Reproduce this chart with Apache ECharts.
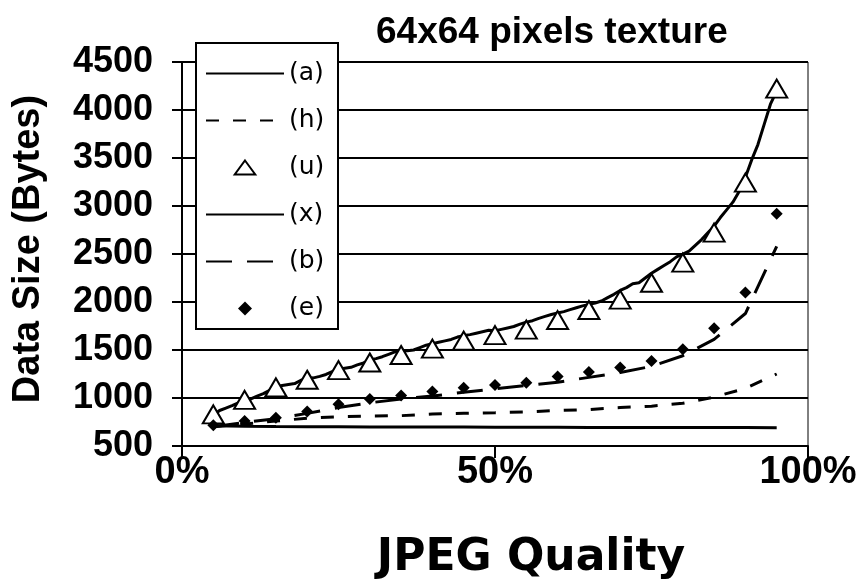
<!DOCTYPE html>
<html>
<head>
<meta charset="utf-8">
<script src="https://cdn.jsdelivr.net/npm/echarts@6/dist/echarts.min.js"></script>
<style>
  html, body { margin: 0; padding: 0; background: #fff; }
  #chart { width: 861px; height: 586px; }
</style>
</head>
<body>
<div id="chart"></div>
<script>
// JPEG quality settings (percent) sampled every 5 %
var quality = [5, 10, 15, 20, 25, 30, 35, 40, 45, 50, 55, 60, 65, 70, 75, 80, 85, 90, 95];

// Data size in bytes for each method, at the qualities above
var sizeA = [710, 706, 703, 701, 700, 699, 698, 697, 697, 696, 695, 695, 694, 694, 693, 693, 692, 692, 691];
var sizeH = [700, 730, 760, 790, 805, 812, 816, 833, 840, 847, 855, 870, 880, 900, 915, 945, 1010, 1100, 1250];
var sizeU = [830, 980, 1110, 1190, 1290, 1370, 1448, 1514, 1597, 1655, 1712, 1812, 1917, 2025, 2200, 2410, 2723, 3244, 4223];
var sizeB = [700, 745, 785, 840, 900, 950, 990, 1020, 1060, 1095, 1130, 1165, 1215, 1265, 1330, 1440, 1610, 1880, 2580];
var sizeE = [716, 760, 795, 860, 934, 990, 1025, 1068, 1108, 1135, 1160, 1223, 1271, 1317, 1385, 1507, 1726, 2100, 2920];

// Method (x) is measured at every 1 % of quality, from 5 % to 95 %
var qualityFine = [
  5, 6, 7, 8, 9, 10, 11, 12, 13, 14, 15, 16, 17, 18, 19, 20, 21, 22, 23, 24,
  25, 26, 27, 28, 29, 30, 31, 32, 33, 34, 35, 36, 37, 38, 39, 40, 41, 42, 43, 44,
  45, 46, 47, 48, 49, 50, 51, 52, 53, 54, 55, 56, 57, 58, 59, 60, 61, 62, 63, 64,
  65, 66, 67, 68, 69, 70, 71, 72, 73, 74, 75, 76, 77, 78, 79, 80, 81, 82, 83, 84,
  85, 86, 87, 88, 89, 90, 91, 92, 93, 94, 95
];
var sizeX = [
  820, 870, 895, 920, 950, 975, 990, 1020, 1045, 1080, 1110, 1130, 1140, 1150, 1185, 1200, 1210, 1225, 1245, 1275,
  1300, 1310, 1320, 1345, 1365, 1395, 1410, 1430, 1455, 1480, 1490, 1492, 1500, 1525, 1550, 1565, 1580, 1595, 1610, 1635,
  1650, 1660, 1675, 1690, 1705, 1700, 1715, 1730, 1745, 1770, 1790, 1805, 1830, 1850, 1870, 1885, 1900, 1920, 1940, 1960,
  1975, 1990, 2010, 2045, 2080, 2120, 2150, 2190, 2200, 2250, 2300, 2340, 2380, 2420, 2470, 2500, 2530, 2590, 2650, 2720,
  2790, 2880, 2960, 3040, 3150, 3300, 3480, 3640, 3850, 4060, 4200
];

var yTicks = [500, 1000, 1500, 2000, 2500, 3000, 3500, 4000, 4500];
var xTicks = [0, 50, 100];

function pairs(xs, ys) {
  return xs.map(function (x, i) { return [x, ys[i]]; });
}

var FONT = 'Liberation Sans';
var chart = echarts.init(document.getElementById('chart'), null, { renderer: 'canvas' });

chart.setOption({
  backgroundColor: '#fff',
  animation: false,
  title: {
    text: '64x64 pixels texture',
    left: 371,
    top: 9,
    textStyle: { fontFamily: FONT, fontWeight: 'bold', fontSize: 37, color: '#000' }
  },
  grid: {
    left: 182, right: 53, top: 62, bottom: 140,
    show: true, borderColor: '#000', borderWidth: 1, backgroundColor: 'transparent'
  },
  legend: {
    orient: 'vertical',
    left: 196,
    top: 43,
    padding: [18, 10, 8, 9],
    itemWidth: 78,
    itemHeight: 14,
    itemGap: 22,
    backgroundColor: '#fff',
    borderColor: '#000',
    borderWidth: 2,
    textStyle: { fontFamily: 'DejaVu Sans', fontSize: 25, color: '#000', width: 39, lineHeight: 24 },
    data: [
      { name: '(a)', itemStyle: { opacity: 0 } },
      { name: '(h)', itemStyle: { opacity: 0 } },
      { name: '(u)', icon: 'path://M11,0L22,15L0,15Z',
        itemStyle: { color: '#fff', borderColor: '#000', borderWidth: 2 } },
      { name: '(x)', itemStyle: { opacity: 0 } },
      { name: '(b)', itemStyle: { opacity: 0 } },
      { name: '(e)', icon: 'path://M6,0L12,6L6,12L0,6Z', itemStyle: { color: '#000' } }
    ]
  },
  xAxis: {
    type: 'value',
    min: xTicks[0], max: xTicks[xTicks.length - 1], interval: 50,
    name: 'JPEG Quality',
    nameLocation: 'middle',
    nameGap: 91,
    nameTextStyle: {
      fontFamily: 'DejaVu Sans', fontWeight: 'bold', fontSize: 44, color: '#000',
      padding: [0, 0, 0, 72]
    },
    axisLine: { lineStyle: { color: '#000', width: 2 } },
    axisTick: { show: true, inside: false, length: 12, lineStyle: { color: '#000', width: 2 } },
    axisLabel: {
      margin: 8,
      fontFamily: FONT, fontWeight: 'bold', fontSize: 38, color: '#000',
      formatter: function (v) { return v + '%'; }
    },
    splitLine: { show: false }
  },
  yAxis: {
    type: 'value',
    min: yTicks[0], max: yTicks[yTicks.length - 1], interval: 500,
    name: 'Data Size (Bytes)',
    nameLocation: 'middle',
    nameGap: 134,
    nameTextStyle: {
      fontFamily: FONT, fontWeight: 'bold', fontSize: 38, color: '#000',
      padding: [0, 0, 0, 10]
    },
    axisLine: { show: true, lineStyle: { color: '#000', width: 2 } },
    axisTick: { show: true, inside: false, length: 10, lineStyle: { color: '#000', width: 2 } },
    axisLabel: {
      margin: 29, fontFamily: FONT, fontWeight: 'bold', fontSize: 36, color: '#000',
      formatter: function (v) { return String(v); }
    },
    splitLine: { show: true, lineStyle: { color: '#000', width: 2 } }
  },
  series: [
    {
      name: '(a)', type: 'line', data: pairs(quality, sizeA),
      symbol: 'none', lineStyle: { color: '#000', width: 3 }, z: 3
    },
    {
      name: '(h)', type: 'line', data: pairs(quality, sizeH),
      symbol: 'none', lineStyle: { color: '#000', width: 3, type: [13, 14] }, z: 3
    },
    {
      name: '(u)', type: 'scatter', data: pairs(quality, sizeU),
      symbol: 'triangle', symbolSize: [21, 18],
      itemStyle: { color: '#fff', borderColor: '#000', borderWidth: 2, opacity: 1 }, z: 5
    },
    {
      name: '(x)', type: 'line', data: pairs(qualityFine, sizeX),
      symbol: 'none', lineStyle: { color: '#000', width: 3 }, z: 4
    },
    {
      name: '(b)', type: 'line', data: pairs(quality, sizeB),
      symbol: 'none', lineStyle: { color: '#000', width: 3, type: [26, 15] }, z: 3
    },
    {
      name: '(e)', type: 'scatter', data: pairs(quality, sizeE),
      symbol: 'diamond', symbolSize: 12,
      itemStyle: { color: '#000', opacity: 1 }, z: 6
    }
  ]
});
</script>
</body>
</html>
